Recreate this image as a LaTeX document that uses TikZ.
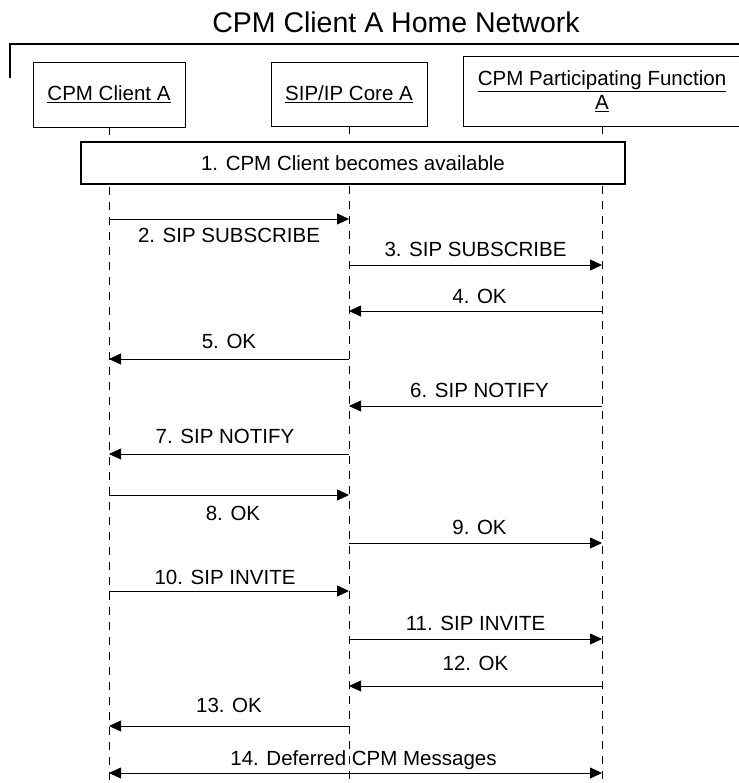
\documentclass[tikz,border=0pt]{standalone}
\usepackage{fontspec}
\setmainfont{Liberation Sans}
\usetikzlibrary{arrows.meta,positioning}

\tikzset{
  entity/.style={draw, line width=0.8pt, align=center, inner sep=0pt,
    font=\fontsize{20.5}{24}\selectfont},
  lifeline/.style={line width=0.8pt, dash pattern=on 8pt off 7pt},
  msg/.style={line width=0.8pt, -{Triangle[length=12pt,width=11pt]}},
  msglabel/.style={inner sep=0pt, anchor=base, font=\fontsize{20.5}{24}\selectfont}
}

\begin{document}
\begin{tikzpicture}[x=1pt,y=-1pt]
\useasboundingbox (0,0) rectangle (738,783);

% Titel und Rahmen
\node[font=\fontsize{28.5}{34}\selectfont] (title) at (396,22) {CPM Client A Home Network};
\draw[line width=1.6pt] (10,78) -- (10,44) -- (742,44);

% Teilnehmer
\node[entity, minimum width=152pt, minimum height=65pt] (ca) at (109,94.5) {\underline{CPM Client A}};
\node[entity, minimum width=156pt, minimum height=64pt] (core) at (349,94) {\underline{SIP/IP Core A}};
\node[entity, minimum width=278pt, minimum height=70pt] (pf) at (602,91)
  {\underline{CPM Participating Function}\\\underline{A}};

% Lebenslinien
\coordinate (bottom) at (0,786);
\draw[lifeline] (ca.south) -- (ca |- bottom);
\draw[lifeline] (core.south) -- (core |- bottom);
\draw[lifeline] (pf.south) -- (pf |- bottom);

% Schritt 1
\node[entity, line width=1.2pt, fill=white, minimum width=544pt, minimum height=42pt]
  (avail) at (353,163) {1. CPM Client becomes available};

% Nachrichten (y-Positionen)
\coordinate (m2) at (0,219);
\coordinate (m3) at (0,265);
\coordinate (m4) at (0,311);
\coordinate (m5) at (0,359);
\coordinate (m6) at (0,406);
\coordinate (m7) at (0,454);
\coordinate (m8) at (0,495);
\coordinate (m9) at (0,543);
\coordinate (m10) at (0,591);
\coordinate (m11) at (0,639);
\coordinate (m12) at (0,686);
\coordinate (m13) at (0,726);
\coordinate (m14) at (0,773);

\draw[msg] (ca |- m2) -- (core |- m2) node[msglabel, midway, yshift=-24pt] (l2) {2. SIP SUBSCRIBE};
\draw[msg] (core |- m3) -- (pf |- m3) node[msglabel, midway, yshift=8pt] (l3) {3. SIP SUBSCRIBE};
\draw[msg] (pf |- m4) -- (core |- m4) node[msglabel, midway, yshift=8pt, xshift=4pt] (l4) {4. OK};
\draw[msg] (core |- m5) -- (ca |- m5) node[msglabel, midway, yshift=11pt] (l5) {5. OK};
\draw[msg] (pf |- m6) -- (core |- m6) node[msglabel, midway, yshift=9pt, xshift=4pt] (l6) {6. SIP NOTIFY};
\draw[msg] (core |- m7) -- (ca |- m7) node[msglabel, midway, yshift=11pt, xshift=-4pt] (l7) {7. SIP NOTIFY};
\draw[msg] (ca |- m8) -- (core |- m8) node[msglabel, midway, yshift=-25pt, xshift=4pt] (l8) {8. OK};
\draw[msg] (core |- m9) -- (pf |- m9) node[msglabel, midway, yshift=9pt, xshift=4pt] (l9) {9. OK};
\draw[msg] (ca |- m10) -- (core |- m10) node[msglabel, midway, yshift=7pt, xshift=-4pt] (l10) {10. SIP INVITE};
\draw[msg] (core |- m11) -- (pf |- m11) node[msglabel, midway, yshift=9pt] (l11) {11. SIP INVITE};
\draw[msg] (pf |- m12) -- (core |- m12) node[msglabel, midway, yshift=16pt] (l12) {12. OK};
\draw[msg] (core |- m13) -- (ca |- m13) node[msglabel, midway, yshift=14pt] (l13) {13. OK};
\draw[msg, {Triangle[length=12pt,width=11pt]}-{Triangle[length=12pt,width=11pt]}] (ca |- m14) -- (pf |- m14)
  node[msglabel, midway, yshift=8pt, xshift=8pt] (l14) {14. Deferred CPM Messages};
\end{tikzpicture}
\end{document}
